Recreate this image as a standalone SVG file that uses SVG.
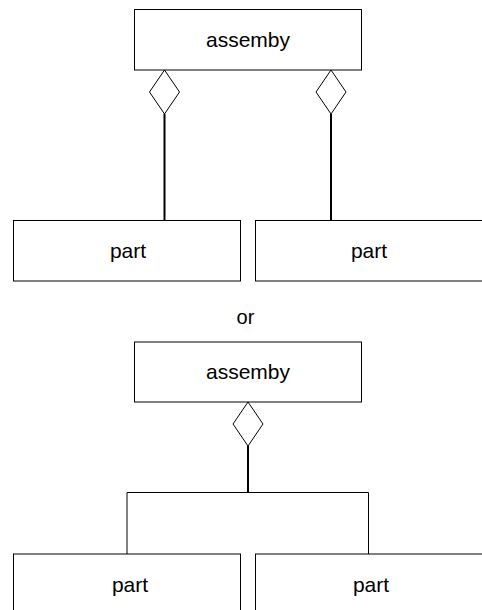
<svg xmlns="http://www.w3.org/2000/svg" width="482" height="610" viewBox="0 0 482 610">
<style>
.box{fill:#fff;stroke:#000;stroke-width:1}
.lbl{font-family:"Liberation Sans",Arial,sans-serif;font-size:21px;fill:#000;text-anchor:middle}
.dia{fill:#fff;stroke:#000;stroke-width:1}
.thick{stroke:#000;stroke-width:2;fill:none}
.thin{stroke:#000;stroke-width:1;fill:none}
</style>
<rect width="482" height="610" fill="#fff"/>
<g id="connectors">
<line class="thick" x1="164.5" y1="114" x2="164.5" y2="221"/>
<line class="thick" x1="331" y1="114" x2="331" y2="221"/>
<polygon class="dia" points="164.5,70 179.5,92 164.5,114 149.5,92"/>
<polygon class="dia" points="331,70 346,92 331,114 316,92"/>
<line class="thick" x1="248" y1="446" x2="248" y2="493"/>
<polyline class="thin" points="127,554 127,492.5 368.5,492.5 368.5,554"/>
<polygon class="dia" points="248,402 263,424 248,446 233,424"/>
</g>
<g id="assembly1"><rect class="box" x="134.5" y="9.5" width="227" height="60.5"/><text class="lbl" x="248" y="46.5">assemby</text></g>
<g id="part1"><rect class="box" x="13.5" y="220.5" width="227" height="60.5"/><text class="lbl" x="128" y="258">part</text></g>
<g id="part2"><rect class="box" x="255.5" y="220.5" width="227" height="60.5"/><text class="lbl" x="369" y="258">part</text></g>
<g id="or"><text class="lbl" x="245.5" y="324" style="font-size:20px">or</text></g>
<g id="assembly2"><rect class="box" x="134.5" y="342" width="227" height="60"/><text class="lbl" x="248" y="379">assemby</text></g>
<g id="part3"><rect class="box" x="13.5" y="554" width="227" height="70"/><text class="lbl" x="130" y="592">part</text></g>
<g id="part4"><rect class="box" x="255.5" y="554" width="227" height="70"/><text class="lbl" x="371" y="592">part</text></g>
</svg>
